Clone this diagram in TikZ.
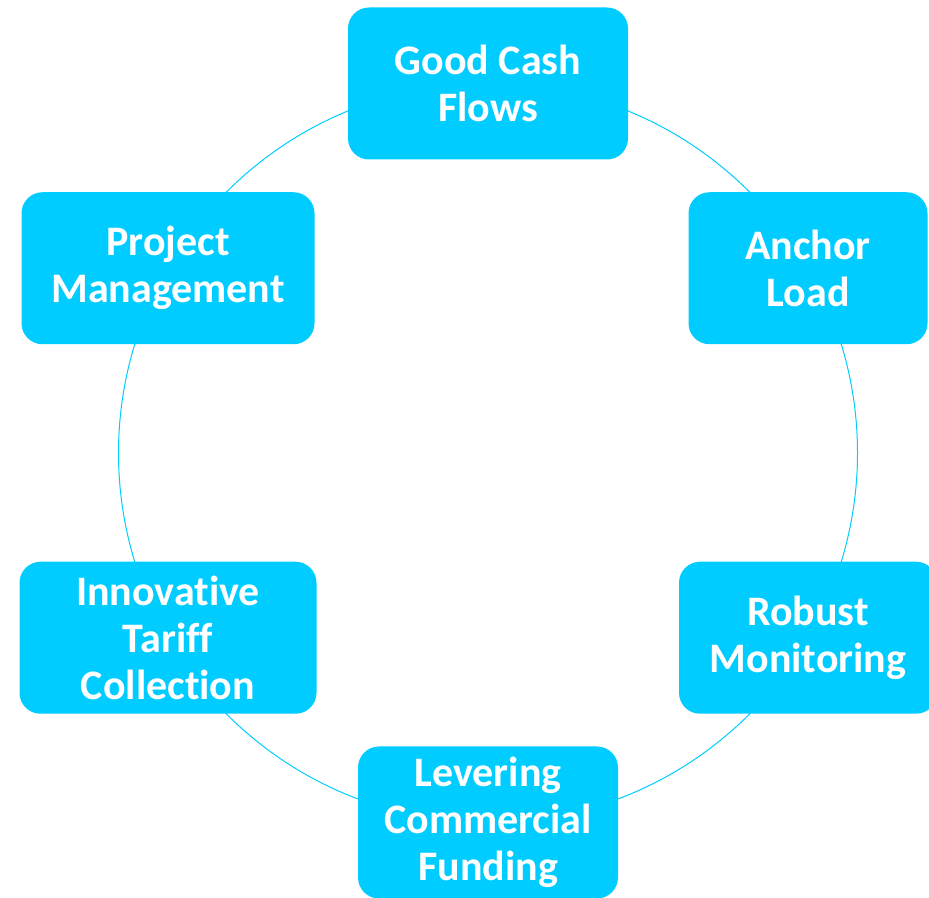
\documentclass[tikz,border=0pt]{standalone}
\usepackage{fontspec}
\setmainfont{Carlito}[Ligatures=NoCommon]
\definecolor{ringblue}{HTML}{00CCFF}

\begin{document}
\begin{tikzpicture}[
    every node/.style={fill=ringblue, rounded corners=21pt, text=white,
      align=center, inner sep=0pt, minimum height=152pt,
      font=\bfseries\fontsize{42}{47}\selectfont},
    x=1pt,
    y=1pt]

    \useasboundingbox (0,0) rectangle (929,897);

    % Ring
    \coordinate (O) at (488,444);
    \draw [ringblue, line width=1pt] (O) circle (369.5pt);

    % Boxes
    \foreach \a/\w/\name/\txt in {
        90/280/cash/{Good Cash\\Flows},
        30/239/anchor/{Anchor\\Load},
        -30/258/robust/{Robust\\Monitoring},
        -90/260/funding/{Levering\\Commercial\\Funding},
        210/297/tariff/{Innovative\\Tariff\\Collection},
        150/293/project/{Project\\Management}} {
      \node (\name) [minimum width=\w pt] at ([shift={(\a:369.5pt)}]O) {\txt};
    }
  \end{tikzpicture}
\end{document}
